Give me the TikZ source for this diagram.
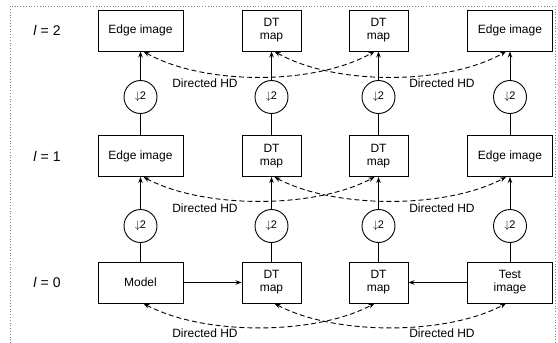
\documentclass[tikz,border=0pt]{standalone}
\usepackage{fontspec}
\setmainfont{Liberation Sans}
\usetikzlibrary{arrows.meta}
\begin{document}
\begin{tikzpicture}[x=1pt,y=-1pt,
 box/.style={draw, line width=1pt, minimum height=41pt, inner sep=0pt, align=center, font=\fontsize{12}{13}\selectfont},
 wbox/.style={box, minimum width=85pt},
 nbox/.style={box, minimum width=59pt},
 dn/.style={draw, circle, line width=0.9pt, minimum size=33pt, inner sep=0pt, font=\fontsize{11}{12}\selectfont},
 plain/.style={line width=1pt},
 up/.style={line width=1pt, -{Stealth[length=6pt,width=4.5pt]}},
 hd/.style={dash pattern=on 5pt off 3pt, line width=0.9pt, {Stealth[length=6pt,width=4.5pt]}-{Stealth[length=6pt,width=4.5pt]}},
 lvl/.style={font=\fontsize{14}{16}\selectfont},
 lab/.style={font=\fontsize{12}{13}\selectfont}]
\useasboundingbox (0,0) rectangle (558,343);
\draw[gray, dotted, line width=0.8pt] (10,343) -- (10,6) -- (555,6) -- (555,343);

% level labels
\node[lvl] (l2) at (47,30) {\textit{l} = 2};
\node[lvl] (l1) at (47,156) {\textit{l} = 1};
\node[lvl] (l0) at (47,282) {\textit{l} = 0};

% row l=2
\node[wbox] (e2a) at (140.5,30.5) {Edge image};
\node[nbox] (d2b) at (271.5,30.5) {DT\\map};
\node[nbox] (d2c) at (378.5,30.5) {DT\\map};
\node[wbox] (e2d) at (510,30.5) {Edge image};
% row l=1
\node[wbox] (e1a) at (140.5,156) {Edge image};
\node[nbox] (d1b) at (271.5,156) {DT\\map};
\node[nbox] (d1c) at (378.5,156) {DT\\map};
\node[wbox] (e1d) at (510,156) {Edge image};
% row l=0
\node[wbox] (m0a) at (140.5,282.5) {Model};
\node[nbox] (d0b) at (271.5,282.5) {DT\\map};
\node[nbox] (d0c) at (378.5,282.5) {DT\\map};
\node[wbox] (t0d) at (510,282.5) {Test\\image};

% downsampling circles
\foreach \c/\x in {a/140.5,b/271.5,c/378.5,d/510}{
  \node[dn] (c2\c) at (\x,97) {$\downarrow$\kern-0.5pt2};
  \node[dn] (c1\c) at (\x,226) {$\downarrow$\kern-0.5pt2};
}

% vertical connections
\draw[plain] (m0a) -- (c1a); \draw[up] (c1a) -- (e1a);
\draw[plain] (e1a) -- (c2a); \draw[up] (c2a) -- (e2a);
\draw[plain] (d0b) -- (c1b); \draw[up] (c1b) -- (d1b);
\draw[plain] (d1b) -- (c2b); \draw[up] (c2b) -- (d2b);
\draw[plain] (d0c) -- (c1c); \draw[up] (c1c) -- (d1c);
\draw[plain] (d1c) -- (c2c); \draw[up] (c2c) -- (d2c);
\draw[plain] (t0d) -- (c1d); \draw[up] (c1d) -- (e1d);
\draw[plain] (e1d) -- (c2d); \draw[up] (c2d) -- (e2d);

% horizontal arrows
\draw[up] (m0a) -- (d0b);
\draw[up] (t0d) -- (d0c);

% directed HD curves
\draw[hd] ([xshift=3pt]e2a.south) .. controls +(60,34) and +(-60,34) .. ([xshift=-4pt]d2c.south);
\draw[hd] ([xshift=3pt]d2b.south) .. controls +(60,34) and +(-60,34) .. ([xshift=-4pt]e2d.south);
\draw[hd] ([xshift=3pt]e1a.south) .. controls +(60,32) and +(-60,32) .. ([xshift=-4pt]d1c.south);
\draw[hd] ([xshift=3pt]d1b.south) .. controls +(60,32) and +(-60,32) .. ([xshift=-4pt]e1d.south);
\draw[hd] ([xshift=3pt]m0a.south) .. controls +(60,32) and +(-60,32) .. ([xshift=-4pt]d0c.south);
\draw[hd] ([xshift=3pt]d0b.south) .. controls +(60,32) and +(-60,32) .. ([xshift=-4pt]t0d.south);

% labels
\node[lab] (h2l) at (205,83) {Directed HD};
\node[lab] (h2r) at (442,83) {Directed HD};
\node[lab] (h1l) at (205,208) {Directed HD};
\node[lab] (h1r) at (442,208) {Directed HD};
\node[lab] (h0l) at (205,333) {Directed HD};
\node[lab] (h0r) at (442,333) {Directed HD};
\end{tikzpicture}
\end{document}
